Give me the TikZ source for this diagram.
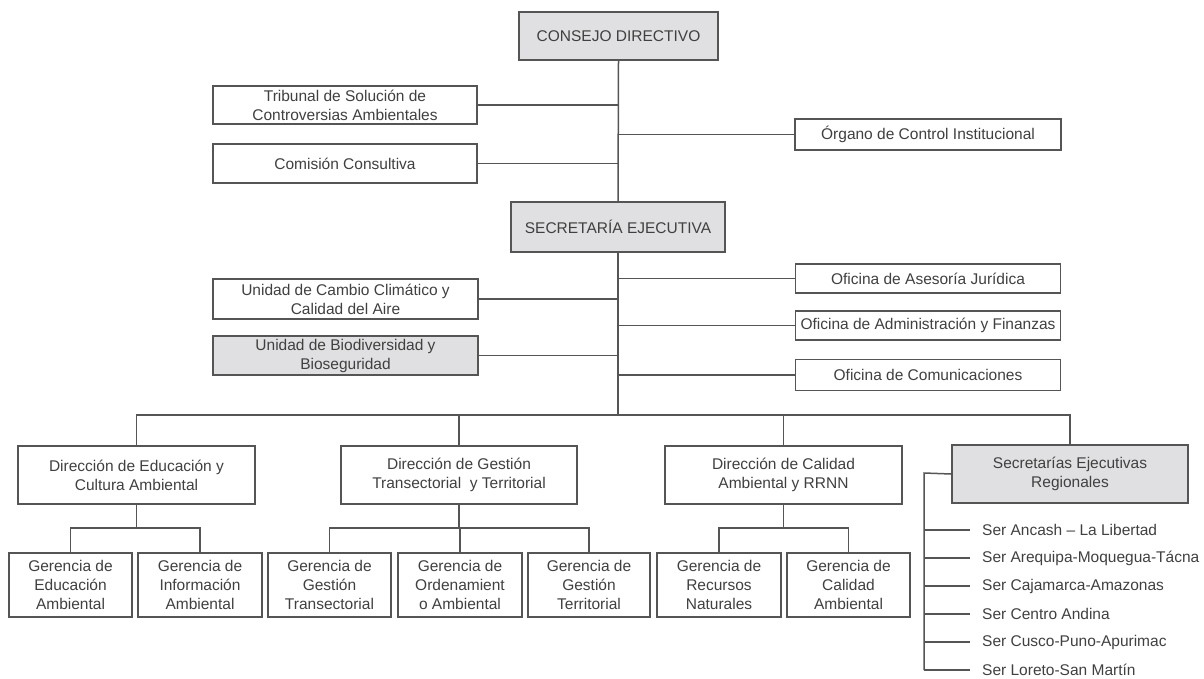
\documentclass[tikz,border=0pt]{standalone}
\usepackage{fontspec}
\setmainfont{Liberation Sans}
\usepackage{tikz}
\usepackage{xcolor}

\definecolor{boxgrey}{HTML}{E0E0E2}
\definecolor{linegrey}{HTML}{555555}
\definecolor{txtgrey}{HTML}{404040}

\tikzset{
  box/.style={draw=linegrey, line width=1.5pt, fill=white, align=center, text=txtgrey,
    inner sep=2pt, font=\fontsize{15.5}{19}\selectfont},
  greybox/.style={box, fill=boxgrey},
  link/.style={draw=linegrey, line width=1.5pt},
  serlabel/.style={anchor=west, inner xsep=0pt, text=txtgrey, font=\fontsize{15.5}{19}\selectfont}
}

\begin{document}
\begin{tikzpicture}[x=1pt,y=-1pt]
\useasboundingbox (0,0) rectangle (1204,678);

% direccion superior
\node[greybox, minimum width=199, minimum height=48] (cd) at (618.5,36) {CONSEJO DIRECTIVO};
\node[box, minimum width=264, minimum height=38] (trib) at (345,105) {Tribunal de Solución de\\Controversias Ambientales};
\node[box, minimum width=264, minimum height=39] (com) at (345,163.5) {Comisión Consultiva};
\node[box, minimum width=266, minimum height=31] (oci) at (928,134.5) {Órgano de Control Institucional};
\node[greybox, minimum width=214, minimum height=50] (se) at (618,227) {SECRETARÍA EJECUTIVA};

% unidades y oficinas
\node[box, minimum width=265, minimum height=40] (ucc) at (345.5,299) {Unidad de Cambio Climático y\\Calidad del Aire};
\node[greybox, minimum width=265, minimum height=39] (ubio) at (345.5,355.5) {Unidad de Biodiversidad y\\Bioseguridad};
\node[box, minimum width=265, minimum height=29] (oaj) at (928,278.5) {Oficina de Asesoría Jurídica};
\node[box, minimum width=265, minimum height=29] (oaf) at (928,325.5) {Oficina de Administración y Finanzas};
\node[box, minimum width=265, minimum height=31] (ocom) at (928,375) {Oficina de Comunicaciones};

% direcciones
\node[box, minimum width=237, minimum height=58] (dedu) at (136.5,475) {Dirección de Educación y\\Cultura Ambiental};
\node[box, minimum width=236, minimum height=58] (dges) at (459,475) {Dirección de Gestión\\Transectorial~ y Territorial};
\node[box, minimum width=237, minimum height=58] (dcal) at (783.5,475) {Dirección de Calidad\\Ambiental y RRNN};
\node[greybox, minimum width=236, minimum height=58] (dser) at (1070,474) {Secretarías Ejecutivas\\Regionales};

% gerencias
\node[box, minimum width=123, minimum height=64] (gedu) at (70.5,585) {Gerencia de\\Educación\\Ambiental};
\node[box, minimum width=124, minimum height=64] (ginf) at (200,585) {Gerencia de\\Información\\Ambiental};
\node[box, minimum width=123, minimum height=64] (ggtr) at (329.5,585) {Gerencia de\\Gestión\\Transectorial};
\node[box, minimum width=124, minimum height=64] (gord) at (460,585) {Gerencia de\\Ordenamient\\o Ambiental};
\node[box, minimum width=122, minimum height=64] (gter) at (589,585) {Gerencia de\\Gestión\\Territorial};
\node[box, minimum width=124, minimum height=64] (grec) at (719,585) {Gerencia de\\Recursos\\Naturales};
\node[box, minimum width=123, minimum height=64] (gcal) at (848.5,585) {Gerencia de\\Calidad\\Ambiental};

% secretarias regionales
\foreach \t [count=\i] in {Ser Ancash – La Libertad, Ser Arequipa-Moquegua-Tácna, Ser Cajamarca-Amazonas,
  Ser Centro Andina, Ser Cusco-Puno-Apurimac, Ser Loreto-San Martín}
  \node[serlabel] (r\i) at (982,{530+28*(\i-1)}) {\t};

\coordinate (bus) at (618,415);
\coordinate (sub) at (0,528);
\coordinate (rtop) at (924,473);

% conexiones
\draw[link] (cd.south) -- (se.north);
\draw[link] (trib.east) -- (trib.east -| cd.south);
\draw[link] (com.east) -- (com.east -| cd.south);
\draw[link] (oci.west) -- (oci.west -| cd.south);
\draw[link] (se.south) -- (bus);
\draw[link] (ucc.east) -- (ucc.east -| se.south);
\draw[link] (ubio.east) -- (ubio.east -| se.south);
\draw[link] (oaj.west) -- (oaj.west -| se.south);
\draw[link] (oaf.west) -- (oaf.west -| se.south);
\draw[link] (ocom.west) -- (ocom.west -| se.south);

\draw[link] (dedu.north) |- (bus) -| (dser.north);
\draw[link] (dges.north) -- (dges.north |- bus);
\draw[link] (dcal.north) -- (dcal.north |- bus);

\draw[link] (dedu.south) -- (dedu.south |- sub);
\draw[link] (gedu.north) |- (ginf.north |- sub) -- (ginf.north);
\draw[link] (dges.south) -- (dges.south |- sub);
\draw[link] (ggtr.north) |- (gter.north |- sub) -- (gter.north);
\draw[link] (gord.north) -- (gord.north |- sub);
\draw[link] (dcal.south) -- (dcal.south |- sub);
\draw[link] (grec.north) |- (gcal.north |- sub) -- (gcal.north);

\draw[link] (dser.west) -- (rtop) -- (rtop |- r6.west);
\foreach \i in {1,...,6}
  \draw[link] (rtop |- r\i.west) -- ([xshift=-12pt]r\i.west);
\end{tikzpicture}
\end{document}
